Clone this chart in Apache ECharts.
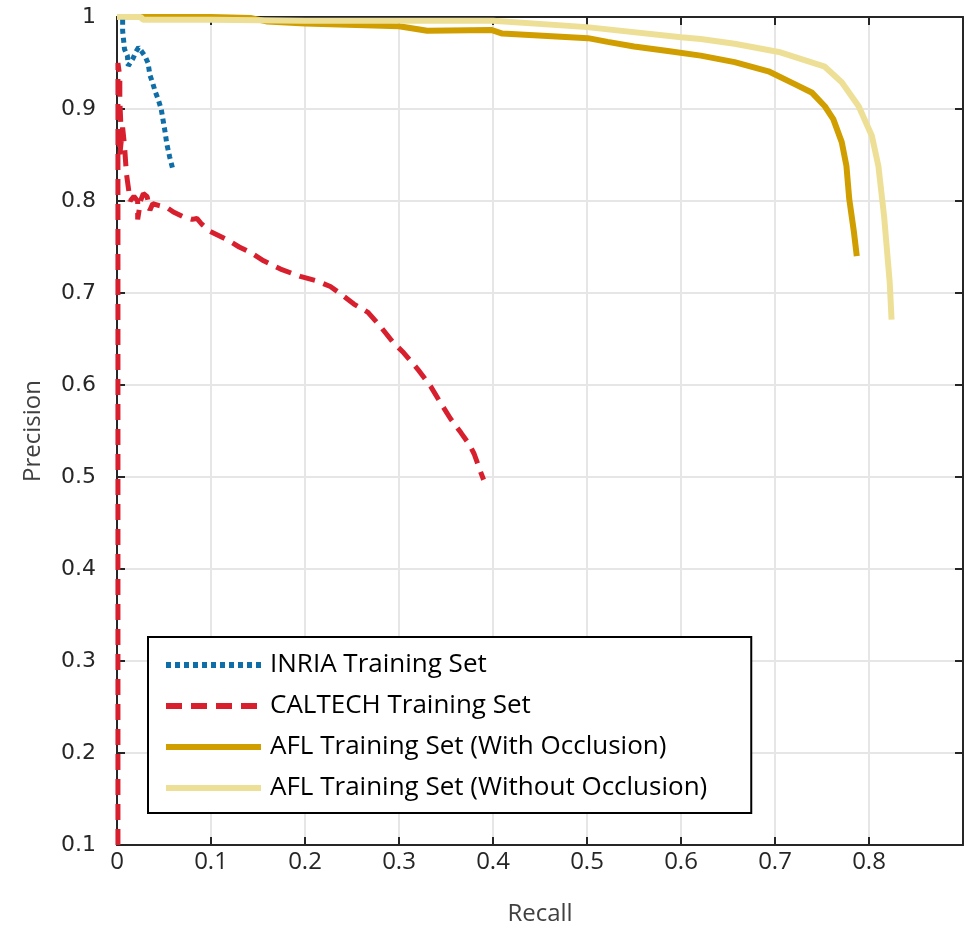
<!DOCTYPE html>
<html>
<head>
<meta charset="utf-8">
<script src="https://cdn.jsdelivr.net/npm/echarts@6/dist/echarts.min.js"></script>
<style>html,body{margin:0;padding:0;background:#fff}#c{width:971px;height:936px}</style>
</head>
<body>
<div id="c"></div>
<script>
var seriesNames = ['INRIA Training Set', 'CALTECH Training Set', 'AFL Training Set (With Occlusion)', 'AFL Training Set (Without Occlusion)'];
var xTicks = ['0', '0.1', '0.2', '0.3', '0.4', '0.5', '0.6', '0.7', '0.8', ''];
var yTicks = ['0.1', '0.2', '0.3', '0.4', '0.5', '0.6', '0.7', '0.8', '0.9', '1'];

var inriaRecall =    [0.006, 0.006, 0.007, 0.008, 0.011, 0.012, 0.014, 0.017, 0.020, 0.023, 0.026, 0.030, 0.033, 0.035, 0.038, 0.041, 0.044, 0.047, 0.049, 0.051, 0.053, 0.056, 0.059];
var inriaPrecision = [0.997, 0.985, 0.975, 0.965, 0.958, 0.947, 0.950, 0.955, 0.962, 0.967, 0.963, 0.957, 0.950, 0.937, 0.928, 0.918, 0.910, 0.900, 0.888, 0.876, 0.862, 0.848, 0.836];

var caltechRecall =    [0.001, 0.001, 0.003, 0.003, 0.004, 0.002, 0.003, 0.006, 0.008, 0.010, 0.012, 0.014, 0.018, 0.022, 0.022, 0.025, 0.028, 0.032, 0.035, 0.038, 0.045, 0.053, 0.060, 0.070, 0.080, 0.085, 0.090, 0.099, 0.117, 0.130, 0.142, 0.156, 0.174, 0.195, 0.213, 0.227, 0.238, 0.252, 0.267, 0.280, 0.294, 0.305, 0.320, 0.334, 0.344, 0.355, 0.366, 0.375, 0.380, 0.387, 0.390];
var caltechPrecision = [0.100, 0.950, 0.935, 0.910, 0.885, 0.870, 0.850, 0.880, 0.860, 0.830, 0.815, 0.800, 0.805, 0.800, 0.780, 0.800, 0.808, 0.805, 0.790, 0.797, 0.795, 0.793, 0.788, 0.783, 0.780, 0.781, 0.775, 0.767, 0.758, 0.750, 0.744, 0.735, 0.726, 0.718, 0.713, 0.707, 0.699, 0.688, 0.679, 0.664, 0.646, 0.635, 0.617, 0.598, 0.581, 0.563, 0.548, 0.535, 0.525, 0.505, 0.497];

var aflOccRecall =    [0.005, 0.100, 0.142, 0.160, 0.200, 0.300, 0.330, 0.398, 0.410, 0.501, 0.522, 0.550, 0.586, 0.621, 0.657, 0.693, 0.721, 0.739, 0.753, 0.762, 0.771, 0.776, 0.779, 0.784, 0.787];
var aflOccPrecision = [1.000, 1.000, 0.999, 0.995, 0.993, 0.990, 0.985, 0.986, 0.982, 0.977, 0.973, 0.968, 0.963, 0.958, 0.951, 0.941, 0.927, 0.918, 0.903, 0.889, 0.864, 0.838, 0.802, 0.766, 0.740];

var aflNoOccRecall =    [0.000, 0.025, 0.028, 0.100, 0.200, 0.300, 0.400, 0.500, 0.600, 0.621, 0.657, 0.704, 0.753, 0.771, 0.789, 0.803, 0.810, 0.816, 0.819, 0.822, 0.824];
var aflNoOccPrecision = [1.000, 1.000, 0.997, 0.997, 0.996, 0.996, 0.996, 0.989, 0.978, 0.976, 0.971, 0.962, 0.946, 0.929, 0.903, 0.871, 0.838, 0.784, 0.748, 0.712, 0.671];

function pairs(xs, ys) { return xs.map(function (x, i) { return [x, ys[i]]; }); }

var axisColor = '#262626';
var gridColor = '#e6e6e6';

var chart = echarts.init(document.getElementById('c'), null, {renderer: 'canvas'});
chart.setOption({
  animation: false,
  backgroundColor: '#ffffff',
  grid: {left: 117, right: 8, top: 17, bottom: 91, containLabel: false},
  legend: {
    orient: 'vertical', left: 148, top: 637,
    padding: [15, 44, 12, 15],
    itemWidth: 95, itemHeight: 6, itemGap: 15,
    itemStyle: {opacity: 0},
    lineStyle: {width: 6},
    backgroundColor: '#ffffff', borderColor: '#000000', borderWidth: 2,
    textStyle: {fontFamily: 'Open Sans', fontSize: 26, color: '#000000', padding: [0, 0, 0, 4]},
    data: seriesNames
  },
  xAxis: [{
    type: 'value', min: 0, max: 0.9, interval: 0.1, position: 'bottom',
    name: 'Recall', nameLocation: 'middle', nameGap: 57,
    nameTextStyle: {fontFamily: 'Open Sans', fontSize: 24, color: '#404040'},
    axisLine: {show: true, onZero: false, lineStyle: {color: axisColor, width: 2}},
    axisTick: {show: true, inside: true, length: 8, lineStyle: {color: axisColor, width: 2}},
    axisLabel: {margin: 5, fontFamily: 'Open Sans', fontSize: 24, color: axisColor,
      formatter: function (v) { return xTicks[Math.round(v * 10)]; }},
    splitLine: {show: true, lineStyle: {color: gridColor, width: 2}}
  }, {
    type: 'value', min: 0, max: 0.9, interval: 0.1, position: 'top',
    axisLine: {show: true, onZero: false, lineStyle: {color: axisColor, width: 2}},
    axisTick: {show: true, inside: true, length: 8, lineStyle: {color: axisColor, width: 2}},
    axisLabel: {show: false}, splitLine: {show: false}
  }],
  yAxis: [{
    type: 'value', min: 0.1, max: 1, interval: 0.1, position: 'left',
    name: 'Precision', nameLocation: 'middle', nameGap: 72, nameRotate: 90,
    nameTextStyle: {fontFamily: 'Open Sans', fontSize: 24, color: '#404040'},
    axisLine: {show: true, onZero: false, lineStyle: {color: axisColor, width: 2}},
    axisTick: {show: true, inside: true, length: 8, lineStyle: {color: axisColor, width: 2}},
    axisLabel: {margin: 21, fontFamily: 'DejaVu Sans', fontSize: 22, color: axisColor,
      formatter: function (v) { return yTicks[Math.round(v * 10) - 1]; }},
    splitLine: {show: true, lineStyle: {color: gridColor, width: 2}}
  }, {
    type: 'value', min: 0.1, max: 1, interval: 0.1, position: 'right',
    axisLine: {show: true, onZero: false, lineStyle: {color: axisColor, width: 2}},
    axisTick: {show: true, inside: true, length: 8, lineStyle: {color: axisColor, width: 2}},
    axisLabel: {show: false}, splitLine: {show: false}
  }],
  series: [
    {name: seriesNames[0], type: 'line', symbol: 'none', data: pairs(inriaRecall, inriaPrecision),
      itemStyle: {color: '#0F6EA8'}, lineStyle: {color: '#0F6EA8', width: 5, type: [5, 4]}, z: 4},
    {name: seriesNames[1], type: 'line', symbol: 'none', data: pairs(caltechRecall, caltechPrecision),
      itemStyle: {color: '#D71F2E'}, lineStyle: {color: '#D71F2E', width: 5, type: [16, 9]}, z: 5},
    {name: seriesNames[2], type: 'line', symbol: 'none', data: pairs(aflOccRecall, aflOccPrecision),
      itemStyle: {color: '#D19E00'}, lineStyle: {color: '#D19E00', width: 6}, z: 2},
    {name: seriesNames[3], type: 'line', symbol: 'none', data: pairs(aflNoOccRecall, aflNoOccPrecision),
      itemStyle: {color: '#EDE096'}, lineStyle: {color: '#EDE096', width: 6}, z: 3}
  ]
});
</script>
</body>
</html>
